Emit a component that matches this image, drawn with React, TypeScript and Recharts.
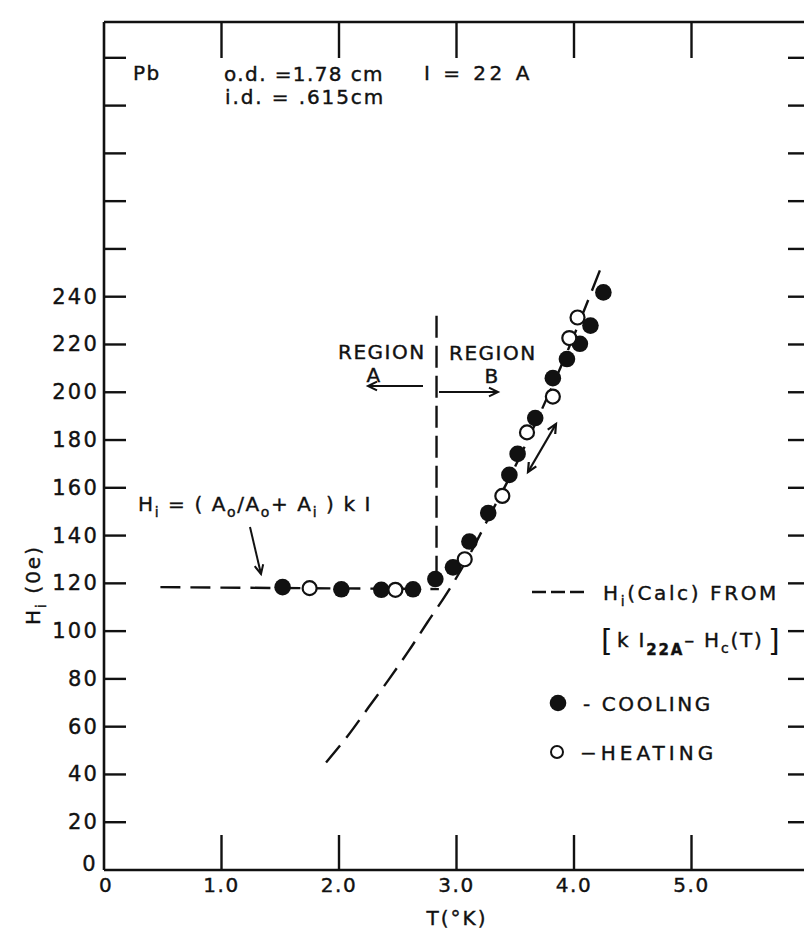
import React from 'react';
import { ComposedChart, Line, Scatter, XAxis, YAxis } from 'recharts';

// ---- data ----
const xTicks = [0, 1, 2, 3, 4, 5, 6];
const xTickLabels = ['0', '1.0', '2.0', '3.0', '4.0', '5.0', ''];
const yTicks = [0, 20, 40, 60, 80, 100, 120, 140, 160, 180, 200, 220, 240, 260, 280, 300, 320, 340];
const yTickLabels = ['0', '20', '40', '60', '80', '100', '120', '140', '160', '180', '200', '220', '240', '', '', '', '', ''];

const coolingT = [1.52, 2.02, 2.36, 2.63, 2.82, 2.97, 3.11, 3.27, 3.45, 3.52, 3.67, 3.82, 3.94, 4.05, 4.14, 4.25];
const coolingH = [118.4, 117.5, 117.3, 117.5, 121.8, 126.7, 137.5, 149.4, 165.4, 174.2, 189.2, 205.9, 213.9, 220.3, 227.9, 241.8];

const heatingT = [1.75, 2.48, 3.07, 3.39, 3.6, 3.82, 3.96, 4.03];
const heatingH = [118.0, 117.3, 130.1, 156.6, 183.2, 198.2, 222.7, 231.3];

const calcT = [1.89, 2.08, 2.25, 2.42, 2.59, 2.75, 2.92, 3.1, 3.3, 3.5, 3.7, 3.9, 4.1, 4.22];
const calcH = [45, 56.5, 68, 79.5, 91.5, 103.5, 116, 131, 150, 169, 190, 212, 236, 251];

const plateauT = [0.48, 2.85];
const plateauH = [118.4, 117.6];

const boundaryT = [2.83, 2.83];
const boundaryH = [232, 119];

const zip = (ts: number[], hs: number[]) => ts.map((t, i) => ({ T: t, H: hs[i] }));
const cooling = zip(coolingT, coolingH);
const heating = zip(heatingT, heatingH);
const calc = zip(calcT, calcH);
const plateau = zip(plateauT, plateauH);
const boundary = zip(boundaryT, boundaryH);

const INK = '#111';
const FONT = '"DejaVu Sans", sans-serif';

const BottomTick = (p: any) => {
  const { x, y, payload, index } = p;
  const v = payload.value;
  return (
    <g>
      {v > 0 && v < 6 && <line x1={x} x2={x} y1={y} y2={y - 35} stroke={INK} strokeWidth={2.4} />}
      <text x={x + (v === 0 ? 2 : 0)} y={y + 22} textAnchor="middle" fontFamily={FONT} fontSize={20} letterSpacing={1.5} fill={INK} stroke={INK} strokeWidth={0.4}>
        {xTickLabels[index] ?? ''}
      </text>
    </g>
  );
};

const TopTick = (p: any) => {
  const { x, y, payload } = p;
  const v = payload.value;
  if (!(v > 0 && v < 6)) return <g />;
  return <line x1={x} x2={x} y1={y} y2={y + 36} stroke={INK} strokeWidth={2.4} />;
};

const LeftTick = (p: any) => {
  const { x, y, payload, index } = p;
  const v = payload.value;
  const label = yTickLabels[index] ?? '';
  return (
    <g>
      {v > 0 && <line x1={x} x2={x + 22} y1={y} y2={y} stroke={INK} strokeWidth={2.4} />}
      {v === 0 ? (
        <text x={x - 15} y={y + 1} textAnchor="middle" fontFamily={FONT} fontSize={21} fill={INK} stroke={INK} strokeWidth={0.4}>0</text>
      ) : (
        <text x={x - 5} y={y + 7} textAnchor="end" fontFamily={FONT} fontSize={21} letterSpacing={2.2} fill={INK} stroke={INK} strokeWidth={0.4}>{label}</text>
      )}
    </g>
  );
};

const RightTick = (p: any) => {
  const { x, y, payload } = p;
  const v = payload.value;
  if (!(v > 0)) return <g />;
  return <line x1={x} x2={x - 21} y1={y} y2={y} stroke={INK} strokeWidth={2.4} />;
};

const FilledDot = (p: any) => <circle cx={p.cx} cy={p.cy} r={8.3} fill={INK} />;
const OpenDot = (p: any) => <circle cx={p.cx} cy={p.cy} r={7} fill="#fff" stroke={INK} strokeWidth={2.2} />;

function arrowHead(x1: number, y1: number, x2: number, y2: number, len = 10, ang = 0.45) {
  const a = Math.atan2(y2 - y1, x2 - x1);
  const p1 = [x2 - len * Math.cos(a - ang), y2 - len * Math.sin(a - ang)];
  const p2 = [x2 - len * Math.cos(a + ang), y2 - len * Math.sin(a + ang)];
  return `M${p1[0]},${p1[1]} L${x2},${y2} L${p2[0]},${p2[1]}`;
}

const txt = { fontFamily: FONT, fontSize: 20, fill: INK, letterSpacing: 1.5, stroke: INK, strokeWidth: 0.4 } as const;

export default function App() {
  return (
    <div style={{ position: 'absolute', left: 0, top: 0, width: 804, height: 932, overflow: 'hidden', background: '#fff' }}>
      <ComposedChart
        width={840}
        height={932}
        margin={{ top: 12, right: 11, bottom: 22, left: 44 }}
        style={{ position: 'absolute', left: 0, top: 0 }}
      >
        <XAxis
          xAxisId="b"
          dataKey="T"
          type="number"
          domain={[0, 6]}
          ticks={xTicks}
          allowDataOverflow
          orientation="bottom"
          height={40}
          tickSize={0}
          tickMargin={0}
          tickLine={false}
          axisLine={{ stroke: INK, strokeWidth: 2.6 }}
          tick={BottomTick}
          interval={0}
        />
        <XAxis
          xAxisId="t"
          dataKey="T"
          type="number"
          domain={[0, 6]}
          ticks={xTicks}
          allowDataOverflow
          orientation="top"
          height={10}
          tickSize={0}
          tickMargin={0}
          tickLine={false}
          axisLine={{ stroke: INK, strokeWidth: 2.6 }}
          tick={TopTick}
          interval={0}
        />
        <YAxis
          yAxisId="l"
          type="number"
          domain={[0, 355]}
          ticks={yTicks}
          allowDataOverflow
          orientation="left"
          width={60}
          tickSize={0}
          tickMargin={0}
          tickLine={false}
          axisLine={{ stroke: INK, strokeWidth: 2.6 }}
          tick={LeftTick}
          interval={0}
        />
        <YAxis
          yAxisId="r"
          type="number"
          domain={[0, 355]}
          ticks={yTicks}
          allowDataOverflow
          orientation="right"
          width={20}
          tickSize={0}
          tickMargin={0}
          tickLine={false}
          axisLine={false}
          tick={RightTick}
          interval={0}
        />
        <Line xAxisId="t" yAxisId="r" data={plateau} dataKey="H" stroke="none" dot={false} isAnimationActive={false} />
        <Line xAxisId="b" yAxisId="l" data={plateau} dataKey="H" type="linear" stroke={INK} strokeWidth={2.4} strokeDasharray="20 10" dot={false} isAnimationActive={false} />
        <Line xAxisId="b" yAxisId="l" data={boundary} dataKey="H" type="linear" stroke={INK} strokeWidth={2.4} strokeDasharray="22 8" dot={false} isAnimationActive={false} />
        <Line xAxisId="b" yAxisId="l" data={calc} dataKey="H" type="monotone" stroke={INK} strokeWidth={2.4} strokeDasharray="22 10" dot={false} isAnimationActive={false} />
        <Scatter xAxisId="b" yAxisId="l" data={cooling} dataKey="H" shape={FilledDot} isAnimationActive={false} />
        <Scatter xAxisId="b" yAxisId="l" data={heating} dataKey="H" shape={OpenDot} isAnimationActive={false} />
      </ComposedChart>

      <svg width={804} height={932} style={{ position: 'absolute', left: 0, top: 0, pointerEvents: 'none' }}>
        {/* header */}
        <text x={133} y={80} {...txt}>Pb</text>
        <text x={224} y={81} {...txt} letterSpacing={1.4}>o.d. =1.78 cm</text>
        <text x={424} y={80} {...txt} letterSpacing={3.5}>I = 22 A</text>
        <text x={225} y={104} {...txt} letterSpacing={1.9}>i.d. = .615cm</text>

        {/* regions */}
        <text x={338} y={359} {...txt}>REGION</text>
        <text x={374} y={382} {...txt} textAnchor="middle">A</text>
        <line x1={423} y1={386} x2={368} y2={386} stroke={INK} strokeWidth={2} />
        <path d={arrowHead(423, 386, 368, 386)} stroke={INK} strokeWidth={2} fill="none" />
        <text x={449} y={360} {...txt}>REGION</text>
        <text x={492} y={383} {...txt} textAnchor="middle">B</text>
        <line x1={439} y1={392} x2={498} y2={392} stroke={INK} strokeWidth={2} />
        <path d={arrowHead(439, 392, 498, 392)} stroke={INK} strokeWidth={2} fill="none" />

        {/* formula */}
        <text x={138} y={511} {...txt} letterSpacing={1.6}>
          H<tspan fontSize={14} dy={6}>i</tspan>
          <tspan dy={-6}> = ( A</tspan>
          <tspan fontSize={14} dy={6}>o</tspan>
          <tspan dy={-6}>/A</tspan>
          <tspan fontSize={14} dy={6}>o</tspan>
          <tspan dy={-6}>+ A</tspan>
          <tspan fontSize={14} dy={6}>i</tspan>
          <tspan dy={-6}> ) k I</tspan>
        </text>
        <line x1={250} y1={527} x2={261} y2={574} stroke={INK} strokeWidth={2} />
        <path d={arrowHead(250, 527, 261, 574)} stroke={INK} strokeWidth={2} fill="none" />

        {/* double arrow */}
        <line x1={528} y1={472} x2={556} y2={424} stroke={INK} strokeWidth={2.2} />
        <path d={arrowHead(528, 472, 556, 424)} stroke={INK} strokeWidth={2.2} fill="none" />
        <path d={arrowHead(556, 424, 528, 472)} stroke={INK} strokeWidth={2.2} fill="none" />

        {/* legend */}
        <line x1={532} y1={592} x2={584} y2={592} stroke={INK} strokeWidth={2.4} strokeDasharray="14 5" />
        <text x={603} y={600} {...txt} letterSpacing={2.6}>
          H<tspan fontSize={14} dy={6}>i</tspan>
          <tspan dy={-6}>(Calc) FROM</tspan>
        </text>
        <text x={601} y={651} {...txt} fontSize={30} letterSpacing={0} strokeWidth={0}>[</text>
        <text x={617} y={647} {...txt} letterSpacing={1.8}>
          k I<tspan fontSize={15} fontWeight="bold" dy={8}>22A</tspan>
          <tspan dy={-8}>– H</tspan>
          <tspan fontSize={14} dy={6}>c</tspan>
          <tspan dy={-6}>(T)</tspan>
        </text>
        <text x={768} y={651} {...txt} fontSize={30} letterSpacing={0} strokeWidth={0}>]</text>
        <circle cx={558} cy={703} r={8.3} fill={INK} />
        <text x={583} y={711} {...txt} letterSpacing={2.6}>- COOLING</text>
        <circle cx={557} cy={752} r={6} fill="#fff" stroke={INK} strokeWidth={2} />
        <text x={580} y={760} {...txt} letterSpacing={4}>−HEATING</text>

        {/* axis titles */}
        <text x={457} y={925} {...txt} letterSpacing={2} textAnchor="middle">T(°K)</text>
        <text transform="translate(40,585) rotate(-90)" {...txt} letterSpacing={2} textAnchor="middle">
          H<tspan fontSize={14} dy={6}>i</tspan>
          <tspan dy={-6}> (0e)</tspan>
        </text>
      </svg>
    </div>
  );
}
